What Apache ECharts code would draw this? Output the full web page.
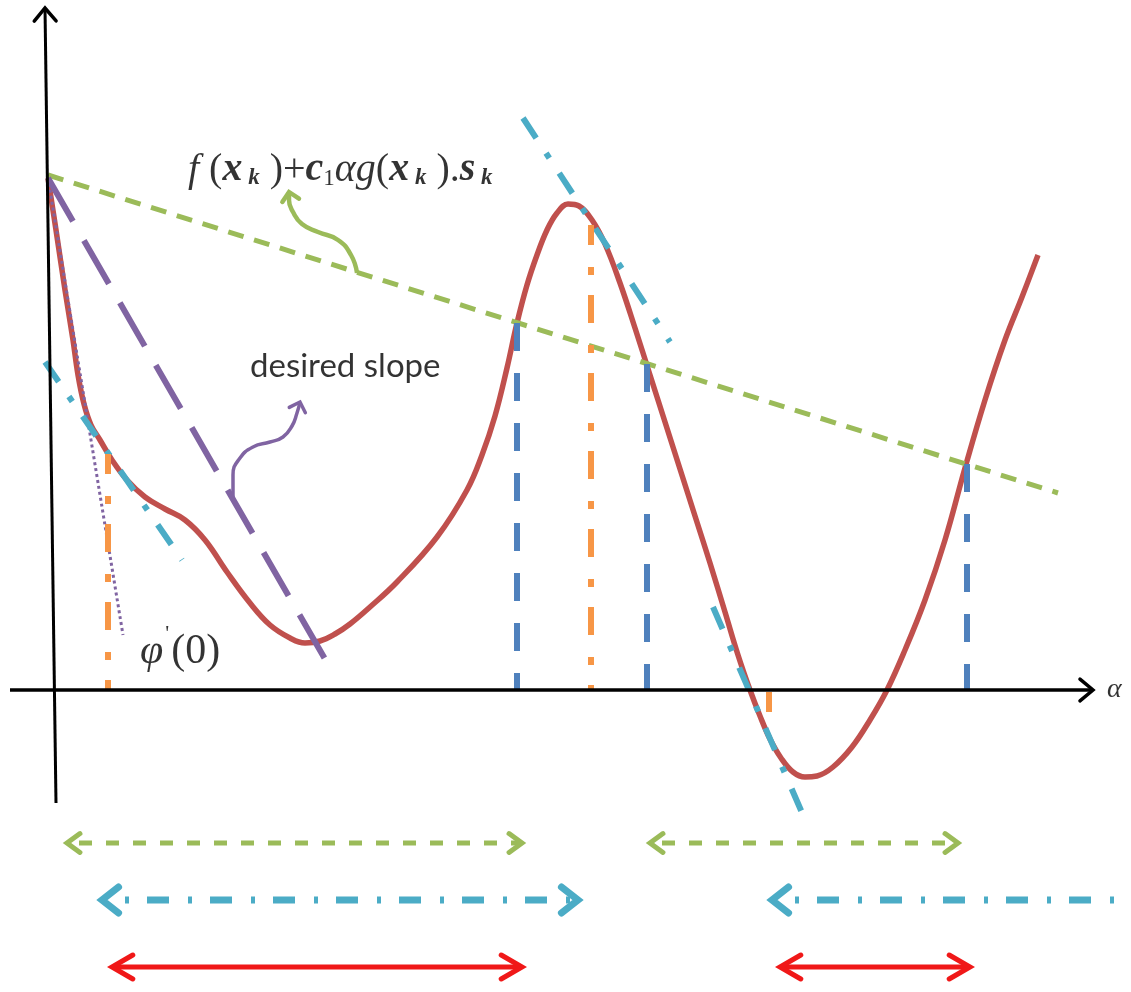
<!DOCTYPE html>
<html>
<head>
<meta charset="utf-8">
<title>Line search: sufficient decrease and curvature conditions</title>
<script src="https://cdn.jsdelivr.net/npm/echarts@6/dist/echarts.min.js"></script>
<style>
  html, body { margin: 0; padding: 0; background: #ffffff; }
  #chart { width: 1131px; height: 992px; }
</style>
</head>
<body>
<div id="chart"></div>
<script>
// φ(α) = f(x_k + α s_k), sampled as [α, φ]
const curvePhi = [
  [-0.07, 5.12], [0.01, 4.60], [0.10, 4.00], [0.18, 3.50], [0.23, 3.15], [0.29, 2.86],
  [0.36, 2.65], [0.45, 2.50], [0.57, 2.30], [0.72, 2.10], [0.90, 1.93], [1.10, 1.81],
  [1.30, 1.70], [1.50, 1.50], [1.72, 1.18], [1.95, 0.87], [2.15, 0.65], [2.35, 0.52],
  [2.50, 0.47], [2.65, 0.49], [2.80, 0.56], [2.95, 0.66], [3.15, 0.83], [3.42, 1.08],
  [3.82, 1.53], [4.12, 2.00], [4.27, 2.35], [4.40, 2.74], [4.52, 3.22], [4.62, 3.67],
  [4.72, 4.05], [4.82, 4.35], [4.92, 4.60], [5.02, 4.77], [5.13, 4.86], [5.24, 4.84],
  [5.37, 4.70], [5.50, 4.46], [5.65, 4.07], [5.80, 3.62], [5.95, 3.15], [6.10, 2.68],
  [6.25, 2.21], [6.40, 1.74], [6.55, 1.27], [6.70, 0.78], [6.83, 0.35], [6.95, 0.00],
  [7.05, -0.26], [7.15, -0.49], [7.26, -0.68], [7.38, -0.82], [7.50, -0.87], [7.62, -0.86],
  [7.78, -0.77], [7.97, -0.57], [8.15, -0.30], [8.32, 0.00], [8.50, 0.40], [8.70, 0.90],
  [8.90, 1.50], [9.10, 2.22], [9.30, 2.90], [9.50, 3.50], [9.67, 3.93], [9.83, 4.35]
];

// sufficient decrease line f(x_k) + c1 α g(x_k).s_k
const armijoLine = [[-0.07, 5.15], [10.03, 1.97]];
// initial slope φ'(0) and the desired slope
const initialSlope = [[-0.07, 5.12], [0.68, 0.55]];
const desiredSlope = [[-0.07, 5.12], [2.78, 0.17]];
// tangents where the curvature condition holds with equality
const tangentLines = [
  [[-0.10, 3.28], [1.27, 1.30]],
  [[4.68, 5.72], [6.15, 3.48]],
  [[6.58, 0.83], [7.48, -1.25]]
];
// where φ meets the sufficient decrease line: [α, φ]
const armijoCuts = [[4.62, 3.67], [5.92, 3.26], [9.12, 2.26]];
// where φ' equals the tangent slope: [α, φ top, φ bottom]
const tangentCuts = [[0.53, 2.36, 0], [5.36, 4.65, 0], [7.14, -0.02, -0.28]];

// acceptable step intervals: [α start, α end]
const armijoRanges = [[0.12, 4.67], [5.95, 9.03]];
const curvatureRanges = [[0.47, 5.23], [7.17, 10.76]];
const wolfeRanges = [[0.57, 4.67], [7.25, 9.15]];
const rangeLevels = { armijo: -1.53, curvature: -2.10, wolfe: -2.77 };
// curvature interval that runs on past the right edge has no right head
const curvatureRightHead = [true, false];

// axes
const alphaAxis = [[-0.45, 0], [10.38, 0]];
const phiAxis = [[0.01, -1.13], [-0.10, 6.82]];

// pointer arrows next to the annotations
const desiredPointer = [
  [1.78, 1.93], [1.78, 2.15], [1.85, 2.32], [1.98, 2.43], [2.15, 2.48],
  [2.28, 2.53], [2.37, 2.64], [2.42, 2.77], [2.45, 2.88]
];
const armijoPointer = [
  [3.02, 4.17], [2.96, 4.35], [2.83, 4.50], [2.63, 4.58], [2.47, 4.66],
  [2.38, 4.78], [2.34, 4.90], [2.34, 4.98]
];

// annotation anchors
const formulaAt = [1.33, 5.24];
const desiredAt = [1.95, 3.24];
const phiPrimeAt = [0.85, 0.42];
const alphaAt = [10.52, 0];

const COLORS = {
  curve: '#c0504d', armijo: '#9bbb59', cut: '#4f81bd', tangentCut: '#f79646',
  tangent: '#4bacc6', slope: '#8064a2', wolfe: '#f01818', axis: '#000000'
};
const SERIF = '"Liberation Serif", "DejaVu Serif", serif';

function path(name, pts, color, width, dash, extra) {
  return Object.assign({
    type: 'line', name: name, data: pts, showSymbol: false, symbol: 'none',
    silent: true, animation: false, z: 3,
    lineStyle: { color: color, width: width, type: dash || 'solid', cap: 'butt', join: 'round' }
  }, extra || {});
}

// open chevron heads; each item is [tip α, tip φ, from α, from φ]
function heads(name, list, color, arm, width, halfAngleDeg) {
  const ang = halfAngleDeg * Math.PI / 180;
  return {
    type: 'custom', name: name, coordinateSystem: 'cartesian2d', silent: true,
    animation: false, z: 6, data: list,
    renderItem: function (params, api) {
      const tip = api.coord([api.value(0), api.value(1)]);
      const from = api.coord([api.value(2), api.value(3)]);
      const dx = from[0] - tip[0], dy = from[1] - tip[1];
      const len = Math.hypot(dx, dy) || 1;
      const ux = dx / len, uy = dy / len;
      const c = Math.cos(ang), s = Math.sin(ang);
      const p1 = [tip[0] + arm * (ux * c - uy * s), tip[1] + arm * (ux * s + uy * c)];
      const p2 = [tip[0] + arm * (ux * c + uy * s), tip[1] + arm * (-ux * s + uy * c)];
      return {
        type: 'polyline',
        shape: { points: [p1, tip, p2] },
        style: { stroke: color, lineWidth: width, fill: null, lineJoin: 'miter', lineCap: 'round' }
      };
    }
  };
}

function rangeHeads(ranges, level, rightFlags) {
  const out = [];
  ranges.forEach(function (r, i) {
    out.push([r[0], level, r[1], level]);
    if (!rightFlags || rightFlags[i]) out.push([r[1], level, r[0], level]);
  });
  return out;
}

const series = [];

// φ(α)
series.push(path('φ(α)', curvePhi, COLORS.curve, 5.5, 'solid', { smooth: 0.4, z: 1 }));

// lines through φ(0)
series.push(path('sufficient decrease', armijoLine, COLORS.armijo, 5, [16, 11]));
series.push(path('desired slope', desiredSlope, COLORS.slope, 6, [50, 22]));
series.push(path("φ'(0)", initialSlope, COLORS.slope, 3, [3, 3]));

tangentLines.forEach(function (seg, i) {
  series.push(path('tangent ' + i, seg, COLORS.tangent, 6, [24, 18, 6, 18]));
});

armijoCuts.forEach(function (c, i) {
  series.push(path('armijo cut ' + i, [[c[0], c[1]], [c[0], 0]], COLORS.cut, 6, [28, 22]));
});
tangentCuts.forEach(function (c, i) {
  series.push(path('tangent cut ' + i, [[c[0], c[1]], [c[0], c[2]]], COLORS.tangentCut, 6, [28, 22, 8, 20], { lineStyle: { color: COLORS.tangentCut, width: 6, type: [28, 22, 8, 20], dashOffset: 8, cap: 'butt' } }));
});

// axes
series.push(path('α axis', alphaAxis, COLORS.axis, 3.5, 'solid', { z: 4 }));
series.push(path('φ axis', phiAxis, COLORS.axis, 3, 'solid', { z: 4 }));

// pointer arrows
series.push(path('desired pointer', desiredPointer, COLORS.slope, 3.5, 'solid', { smooth: 0.5 }));
series.push(path('armijo pointer', armijoPointer, COLORS.armijo, 4.5, 'solid', { smooth: 0.5 }));

// interval bars
armijoRanges.forEach(function (r, i) {
  series.push(path('armijo range ' + i, [[r[0], rangeLevels.armijo], [r[1], rangeLevels.armijo]], COLORS.armijo, 5, [13, 14], { lineStyle: { color: COLORS.armijo, width: 5, type: [13, 14], dashOffset: -12, cap: 'butt' } }));
});
curvatureRanges.forEach(function (r, i) {
  series.push(path('curvature range ' + i, [[r[0], rangeLevels.curvature], [r[1], rangeLevels.curvature]], COLORS.tangent, 7, [22, 19, 4, 18], { lineStyle: { color: COLORS.tangent, width: 7, type: [22, 19, 4, 18], dashOffset: 18, cap: 'butt' } }));
});
wolfeRanges.forEach(function (r, i) {
  series.push(path('wolfe range ' + i, [[r[0], rangeLevels.wolfe], [r[1], rangeLevels.wolfe]], COLORS.wolfe, 5, 'solid'));
});

// arrow heads
series.push(heads('axis heads', [
  [alphaAxis[1][0], alphaAxis[1][1], alphaAxis[0][0], alphaAxis[0][1]],
  [phiAxis[1][0], phiAxis[1][1], phiAxis[0][0], phiAxis[0][1]]
], COLORS.axis, 17, 3.5, 40));
series.push(heads('desired pointer head', [
  desiredPointer[desiredPointer.length - 1].concat(desiredPointer[desiredPointer.length - 3])
], COLORS.slope, 12, 3.5, 45));
series.push(heads('armijo pointer head', [
  armijoPointer[armijoPointer.length - 1].concat(armijoPointer[armijoPointer.length - 3])
], COLORS.armijo, 12, 4.5, 45));
series.push(heads('armijo range heads', rangeHeads(armijoRanges, rangeLevels.armijo), COLORS.armijo, 16, 5, 36));
series.push(heads('curvature range heads', rangeHeads(curvatureRanges, rangeLevels.curvature, curvatureRightHead), COLORS.tangent, 21, 7, 38));
series.push(heads('wolfe range heads', rangeHeads(wolfeRanges, rangeLevels.wolfe), COLORS.wolfe, 24, 5, 30));

// annotations
series.push({
  type: 'scatter', name: 'notes', symbolSize: 0, silent: true, animation: false, z: 8,
  data: [
    {
      value: formulaAt,
      label: {
        show: true, position: [0, 0], align: 'left', verticalAlign: 'middle',
        formatter: '{i|f}{n| (}{b|x}{s| k}{n| )+}{b|c}{u|1}{i|αg}{n|(}{b|x}{s| k}{n| ).}{b|s}{s| k}',
        rich: {
          i: { fontFamily: SERIF, fontStyle: 'italic', fontSize: 40, lineHeight: 48, verticalAlign: 'bottom', color: '#000' },
          b: { fontFamily: SERIF, fontStyle: 'italic', fontWeight: 'bold', fontSize: 40, lineHeight: 48, verticalAlign: 'bottom', color: '#000' },
          n: { fontFamily: SERIF, fontSize: 40, lineHeight: 48, verticalAlign: 'bottom', color: '#000' },
          s: { fontFamily: SERIF, fontStyle: 'italic', fontWeight: 'bold', fontSize: 23, lineHeight: 24, verticalAlign: 'bottom', color: '#000' },
          u: { fontFamily: SERIF, fontSize: 23, lineHeight: 24, verticalAlign: 'bottom', color: '#000' }
        }
      }
    },
    {
      value: desiredAt,
      label: {
        show: true, position: [0, 0], align: 'left', verticalAlign: 'middle',
        formatter: 'desired slope', fontFamily: 'Lato, "Open Sans", sans-serif', fontSize: 33, color: '#000'
      }
    },
    {
      value: phiPrimeAt,
      label: {
        show: true, position: [0, 0], align: 'left', verticalAlign: 'middle',
        formatter: "{p|φ}{q|'}{n|(0)}",
        rich: {
          p: { fontFamily: SERIF, fontStyle: 'italic', fontSize: 42, lineHeight: 50, verticalAlign: 'bottom', color: '#000' },
          q: { fontFamily: SERIF, fontSize: 22, lineHeight: 10, verticalAlign: 'top', color: '#000', padding: [0, 2, 0, 2] },
          n: { fontFamily: SERIF, fontSize: 42, lineHeight: 50, verticalAlign: 'bottom', color: '#000' }
        }
      }
    },
    {
      value: alphaAt,
      label: {
        show: true, position: [0, 0], align: 'left', verticalAlign: 'middle',
        formatter: 'α', fontFamily: SERIF, fontStyle: 'italic', fontSize: 28, color: '#000'
      }
    }
  ]
});

const chart = echarts.init(document.getElementById('chart'), null, { renderer: 'canvas' });
chart.setOption({
  backgroundColor: '#ffffff',
  animation: false,
  grid: { left: 0, right: 0, top: 0, bottom: 0, containLabel: false },
  xAxis: { type: 'value', min: -0.55, max: 10.76, show: false },
  yAxis: { type: 'value', min: -3.02, max: 6.90, show: false },
  series: series
});
</script>
</body>
</html>
